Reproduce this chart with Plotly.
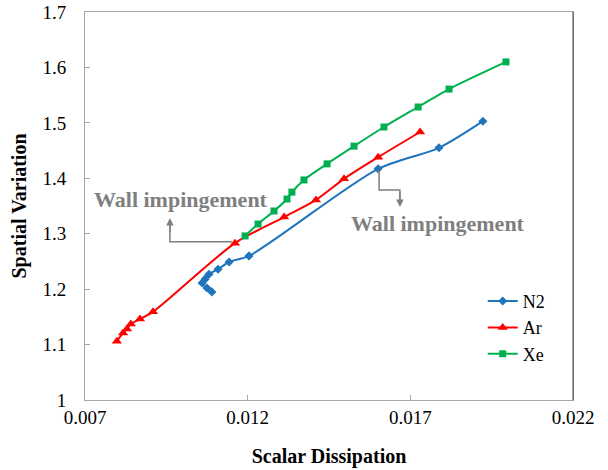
import plotly.graph_objects as go

# Data
n2_x = [0.0109, 0.01075, 0.0106, 0.01069, 0.01081, 0.01109, 0.01143, 0.01204, 0.01601, 0.01788, 0.01923]
n2_y = [1.195, 1.202, 1.211, 1.218, 1.227, 1.236, 1.249, 1.260, 1.417, 1.455, 1.503]

ar_x = [0.00798, 0.00817, 0.00829, 0.00841, 0.00869, 0.00909, 0.01161, 0.01312, 0.0141, 0.01496, 0.01601, 0.0173]
ar_y = [1.106, 1.121, 1.128, 1.137, 1.146, 1.159, 1.283, 1.330, 1.361, 1.399, 1.438, 1.4835]

xe_x = [0.01192, 0.01232, 0.01281, 0.01321, 0.01336, 0.01373, 0.01444, 0.01527, 0.01619, 0.01724, 0.01819, 0.01994]
xe_y = [1.296, 1.3175, 1.341, 1.3626, 1.375, 1.397, 1.426, 1.458, 1.4925, 1.5286, 1.561, 1.610]

x_ticks = [0.007, 0.012, 0.017, 0.022]
x_tick_labels = ["0.007", "0.012", "0.017", "0.022"]
y_ticks = [1.0, 1.1, 1.2, 1.3, 1.4, 1.5, 1.6, 1.7]
y_tick_labels = ["1", "1.1", "1.2", "1.3", "1.4", "1.5", "1.6", "1.7"]

annot_text = "Wall impingement"

FONT = "Liberation Serif, Times New Roman, serif"
GRAY = "#7f7f7f"

fig = go.Figure()
fig.add_trace(go.Scatter(x=n2_x, y=n2_y, name="N2", mode="lines+markers",
                         line=dict(color="#1f74bc", width=2, shape="spline", smoothing=0.8),
                         marker=dict(symbol="diamond", size=7, color="#1f74bc")))
fig.add_trace(go.Scatter(x=ar_x, y=ar_y, name="Ar", mode="lines+markers",
                         line=dict(color="#ff0000", width=2, shape="spline", smoothing=0.8),
                         marker=dict(symbol="triangle-up", size=9, color="#ff0000")))
fig.add_trace(go.Scatter(x=xe_x, y=xe_y, name="Xe", mode="lines+markers",
                         line=dict(color="#00b050", width=2, shape="spline", smoothing=0.8),
                         marker=dict(symbol="square", size=7, color="#00b050")))

# Elbow connectors for annotations
fig.add_shape(type="path", path="M 0.01152 1.2856 L 0.00961 1.2856 L 0.00961 1.315",
              line=dict(color=GRAY, width=1.5), xref="x", yref="y")
fig.add_annotation(x=0.00961, y=1.3283, ax=0.00961, ay=1.30, xref="x", yref="y",
                   axref="x", ayref="y", text="", showarrow=True, arrowhead=2,
                   arrowsize=1, arrowwidth=1.5, arrowcolor=GRAY)
fig.add_annotation(x=0.00994, y=1.3626, xref="x", yref="y", text="<b>" + annot_text + "</b>",
                   showarrow=False, font=dict(family=FONT, size=22, color=GRAY))

fig.add_shape(type="path", path="M 0.01604 1.415 L 0.01604 1.3789 L 0.01668 1.3789 L 0.01668 1.36",
              line=dict(color=GRAY, width=1.5), xref="x", yref="y")
fig.add_annotation(x=0.01668, y=1.3482, ax=0.01668, ay=1.3789, xref="x", yref="y",
                   axref="x", ayref="y", text="", showarrow=True, arrowhead=2,
                   arrowsize=1, arrowwidth=1.5, arrowcolor=GRAY)
fig.add_annotation(x=0.01784, y=1.3193, xref="x", yref="y", text="<b>" + annot_text + "</b>",
                   showarrow=False, font=dict(family=FONT, size=22, color=GRAY))

# darker right border
fig.add_shape(type="line", x0=1, x1=1, y0=0, y1=1, xref="paper", yref="paper",
              line=dict(color="#404040", width=1))

fig.update_layout(
    width=608, height=470,
    margin=dict(l=85, r=35, t=12, b=70),
    paper_bgcolor="white", plot_bgcolor="white",
    font=dict(family=FONT, size=19, color="black"),
    showlegend=True,
    legend=dict(x=0.815, y=0.186, xanchor="left", yanchor="middle",
                font=dict(family=FONT, size=18, color="black"),
                bgcolor="rgba(0,0,0,0)", itemwidth=30, tracegroupgap=0),
    xaxis=dict(range=[0.007, 0.022], tickvals=x_ticks, ticktext=x_tick_labels,
               showgrid=False, zeroline=False, showline=True, linecolor="#a6a6a6",
               linewidth=1, mirror=True, ticks="inside", ticklen=5, tickcolor="#a6a6a6",
               automargin=False,
               title=dict(text="<b>Scalar Dissipation</b>", font=dict(family=FONT, size=20), standoff=22)),
    yaxis=dict(range=[1.0, 1.7], tickvals=y_ticks, ticktext=y_tick_labels,
               showgrid=False, zeroline=False, showline=True, linecolor="#a6a6a6",
               linewidth=1, mirror=True, ticks="inside", ticklen=5, tickcolor="#a6a6a6",
               ticklabelstandoff=14, automargin=False,
               title=dict(text="<b>Spatial Variation</b>", font=dict(family=FONT, size=20), standoff=10)),
)

fig.write_html("out.html", config={"displayModeBar": False},
               post_script="document.body.style.margin='0';")
